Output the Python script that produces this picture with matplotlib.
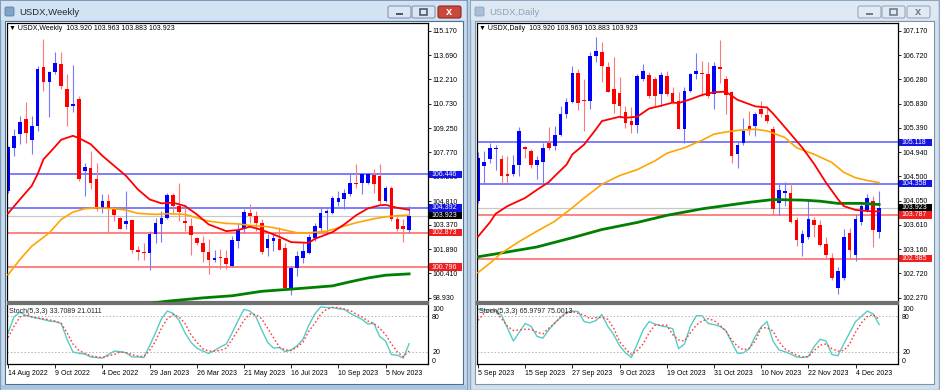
import numpy as np
import matplotlib
matplotlib.use('Agg')
from matplotlib import pyplot as plt
from matplotlib.patches import Rectangle, FancyBboxPatch
from matplotlib.transforms import blended_transform_factory

plt.rcParams['font.family'] = ['Liberation Sans', 'DejaVu Sans']

### Weekly data
w_open = [105.42, 108.01, 108.88, 109.80, 108.54, 109.35, 112.95, 112.08, 112.65, 113.16,
          111.63, 110.61, 111.02, 106.64, 106.85, 106.13, 104.40, 104.83, 104.34, 103.75,
          103.39, 103.63, 101.86, 101.70, 101.66, 102.82, 103.39, 103.79, 105.16, 104.51,
          103.59, 103.28, 102.57, 102.23, 101.72, 101.21, 101.39, 101.35, 100.88, 102.41,
          103.08, 104.10, 103.90, 103.49, 101.96, 102.41, 102.51, 101.96, 99.52, 100.74,
          101.35, 101.66, 102.57, 103.18, 104.10, 104.10, 104.75, 104.91, 105.22, 105.93,
          105.93, 105.93, 106.38, 106.34, 104.81, 105.63, 103.69, 103.29, 103.04]
w_high = [108.17, 109.19, 110.00, 110.81, 110.00, 113.05, 114.68, 112.75, 113.87, 113.87,
          112.55, 113.09, 111.18, 107.15, 107.86, 107.11, 105.22, 105.24, 104.51, 103.84,
          105.42, 103.63, 102.10, 102.23, 102.98, 103.79, 104.20, 105.28, 105.28, 105.89,
          104.57, 103.75, 102.61, 102.67, 102.51, 101.86, 101.90, 101.82, 102.67, 103.49,
          104.30, 104.61, 104.20, 103.69, 102.78, 102.88, 103.25, 102.27, 100.84, 101.76,
          102.27, 102.78, 103.49, 104.41, 104.30, 105.12, 105.42, 105.52, 106.54, 107.05,
          106.54, 106.54, 106.75, 107.05, 105.73, 105.73, 103.90, 103.73, 104.51]
w_low = [105.32, 107.52, 108.27, 108.37, 107.66, 109.08, 111.53, 109.90, 112.55, 111.63,
         109.35, 110.24, 106.03, 105.12, 105.52, 104.20, 104.10, 102.94, 103.59, 103.08,
         103.14, 101.66, 101.21, 101.21, 100.64, 102.27, 102.33, 103.69, 104.00, 103.59,
         102.98, 101.53, 102.15, 101.09, 100.37, 101.11, 100.68, 100.68, 100.78, 101.96,
         102.88, 103.49, 102.98, 101.56, 101.45, 101.76, 101.86, 99.42, 99.11, 100.23,
         101.05, 101.56, 102.37, 102.98, 102.88, 104.00, 104.51, 104.30, 105.12, 105.63,
         105.22, 105.83, 105.32, 104.61, 104.75, 103.59, 102.98, 102.31, 102.88]
w_close = [108.07, 108.78, 109.59, 108.92, 109.39, 112.85, 112.08, 112.65, 113.22, 111.83,
           110.51, 110.69, 106.17, 106.89, 105.93, 104.30, 104.83, 104.38, 103.96, 103.14,
           103.59, 101.82, 101.70, 101.66, 102.80, 103.45, 103.75, 105.18, 104.51, 104.16,
           103.45, 102.73, 102.23, 101.70, 101.21, 101.35, 101.33, 100.98, 102.47, 103.02,
           104.14, 103.90, 103.49, 101.70, 102.51, 102.57, 101.86, 99.52, 100.74, 101.45,
           101.76, 102.64, 103.29, 104.10, 104.20, 105.02, 105.02, 105.32, 105.93, 105.83,
           106.44, 106.44, 105.83, 104.81, 105.63, 103.69, 103.12, 103.08, 103.92]

w_red_bar = [0, 2, 4, 5, 6, 8, 9, 11, 12, 14, 16, 18, 20, 22, 24, 26, 28, 30, 32, 34, 37, 39,
             41, 43, 46, 48, 51, 52, 55, 57, 59, 61, 63, 64, 66, 68]
w_red = [104.06, 104.91, 105.73, 106.44, 107.35, 108.13, 108.54, 108.78, 108.64, 108.27,
         107.56, 106.95, 106.34, 105.52, 104.91, 104.67, 104.71, 104.51, 104.00, 103.39,
         102.98, 103.05, 103.25, 103.06, 102.64, 102.31, 102.27, 102.51, 102.92, 103.39,
         103.94, 104.36, 104.55, 104.58, 104.40, 104.28]
w_orange_bar = [0, 2, 4, 7, 9, 11, 13, 15, 18, 20, 22, 25, 27, 30, 32, 34, 37, 39, 41, 44,
                46, 49, 51, 54, 56, 59, 62, 64, 66, 68]
w_orange = [100.33, 101.25, 102.06, 102.88, 103.69, 104.14, 104.34, 104.40, 104.34, 104.26,
            104.06, 104.00, 104.04, 104.00, 103.79, 103.59, 103.45, 103.42, 103.33, 103.25,
            103.12, 102.88, 102.88, 102.98, 103.18, 103.49, 103.73, 103.85, 103.92, 103.96]
w_green_bar = [22, 27, 33, 38, 43, 49, 55, 58, 61, 64, 68]
w_green = [98.50, 98.72, 98.92, 99.05, 99.32, 99.48, 99.65, 99.90, 100.13, 100.30, 100.38]

w_stoch_k = [52, 79, 87, 82, 79, 77, 74.6, 72, 71, 68, 41, 19.5, 17, 16, 11, 10, 9, 15, 21, 20,
             18, 11, 11, 10, 30, 52, 76, 89, 85, 73, 52, 36, 26, 21, 17, 22, 28, 33, 52, 73,
             92, 89, 80, 57, 36, 26, 27, 20, 23, 30, 41, 65, 84, 96, 95, 95, 93, 92, 85, 80,
             75, 67, 68, 46, 38, 15, 14, 9, 33.7]
w_stoch_d = [44, 63, 79, 82, 79, 77, 76, 74, 72, 68, 52, 33, 22, 17, 13, 11, 10, 13, 15, 19.5,
             18.4, 15, 12.5, 11.4, 22, 38, 60, 76, 83, 79, 68, 49, 36, 25, 21, 21, 22, 26, 41, 57,
             73, 84, 83, 76, 60, 44, 27.6, 23, 22, 27.6, 36, 55, 68, 84, 92, 95, 95, 92, 90, 84,
             79, 72, 68, 60, 49, 33, 19.5, 11.4, 21]

w_ticks = [115.17, 113.69, 112.21, 110.73, 109.25, 107.77, 106.29, 104.81, 103.37, 101.89, 100.41, 98.93]
w_blue_lines = [106.446, 104.392]
w_red_lines = [102.873, 100.796]
w_dates = ['14 Aug 2022', '9 Oct 2022', '4 Dec 2022', '29 Jan 2023', '26 Mar 2023',
           '21 May 2023', '16 Jul 2023', '10 Sep 2023', '5 Nov 2023']

### Daily data
d_open = [104.05, 104.68, 104.81, 105.00, 104.81, 104.53, 104.53, 104.71, 105.04, 104.96,
          104.71, 104.76, 105.10, 105.05, 105.25, 105.64, 105.86, 106.40, 105.89, 105.88,
          106.71, 106.78, 106.50, 106.10, 106.02, 105.68, 105.51, 105.43, 106.28, 106.35,
          106.28, 106.00, 106.34, 106.02, 105.88, 105.37, 106.07, 106.37, 106.40, 106.37,
          106.00, 106.51, 106.29, 106.05, 104.90, 105.11, 105.42, 105.42, 105.74, 105.62,
          105.36, 104.00, 104.19, 104.19, 103.69, 103.27, 103.39, 103.70, 103.61, 103.26,
          102.99, 102.44, 102.63, 103.45, 103.05, 103.65, 103.87, 104.05, 103.47]
d_high = [104.95, 104.96, 105.11, 105.08, 104.88, 104.87, 104.88, 105.41, 105.05, 104.99,
          104.87, 105.10, 105.41, 105.42, 105.78, 105.94, 106.53, 106.46, 106.28, 106.77,
          107.05, 106.96, 106.59, 106.68, 106.31, 105.79, 105.76, 106.37, 106.56, 106.41,
          106.31, 106.41, 106.43, 106.13, 106.04, 106.13, 106.40, 106.76, 106.62, 106.59,
          106.59, 106.99, 106.34, 106.07, 105.14, 105.57, 105.70, 105.68, 105.88, 105.79,
          105.42, 104.35, 104.39, 104.38, 103.75, 103.52, 104.06, 103.75, 103.69, 103.39,
          103.09, 102.84, 103.53, 103.55, 103.80, 104.02, 104.18, 104.13, 104.22]
d_low = [104.00, 104.38, 104.74, 104.62, 104.37, 104.37, 104.50, 104.51, 104.84, 104.65,
         104.44, 104.35, 104.98, 104.98, 105.24, 105.57, 105.84, 105.72, 105.33, 105.73,
         106.59, 106.22, 106.04, 105.65, 105.57, 105.39, 105.30, 105.30, 106.25, 105.94,
         105.79, 105.79, 105.97, 105.82, 105.36, 105.11, 106.04, 106.28, 105.97, 105.94,
         105.73, 106.20, 105.64, 104.74, 104.65, 105.08, 105.25, 105.23, 105.59, 105.47,
         103.79, 103.79, 103.95, 103.64, 103.22, 103.03, 103.35, 103.39, 103.21, 102.99,
         102.60, 102.34, 102.60, 102.97, 102.95, 103.60, 103.85, 103.20, 103.36]
d_close = [104.84, 104.76, 105.02, 105.02, 104.50, 104.51, 104.71, 105.33, 104.99, 104.70,
           104.79, 105.02, 105.02, 105.25, 105.64, 105.86, 106.40, 105.84, 105.87, 106.71,
           106.80, 106.53, 106.05, 105.82, 105.79, 105.48, 105.43, 106.34, 106.43, 105.97,
           105.97, 106.35, 106.00, 105.86, 105.37, 106.07, 106.37, 106.43, 106.37, 105.97,
           106.53, 106.46, 105.99, 104.87, 105.08, 105.33, 105.35, 105.64, 105.64, 105.51,
           103.89, 104.24, 104.22, 103.65, 103.32, 103.44, 103.71, 103.61, 103.24, 103.06,
           102.63, 102.75, 103.39, 103.15, 103.72, 103.95, 104.10, 103.52, 103.92]

d_red_bar = [0, 2, 3, 5, 8, 10, 12, 13, 15, 16, 18, 20, 21, 24, 25, 27, 29, 31, 33, 34, 36, 38,
             40, 42, 44, 47, 49, 50, 52, 55, 57, 59, 61, 62, 64, 66, 68]
d_red = [103.39, 103.65, 103.81, 103.95, 104.10, 104.25, 104.39, 104.50, 104.71, 104.90,
         105.08, 105.36, 105.51, 105.59, 105.57, 105.59, 105.74, 105.79, 105.85, 105.84,
         105.91, 105.99, 106.04, 106.05, 105.90, 105.78, 105.76, 105.65, 105.40, 105.02,
         104.72, 104.38, 104.08, 103.95, 103.88, 103.86, 103.85]
d_orange_bar = [0, 2, 4, 7, 10, 13, 16, 18, 21, 24, 27, 30, 32, 35, 38, 40, 42, 44, 47, 49,
                52, 54, 57, 60, 62, 64, 66, 68]
d_orange = [102.73, 102.90, 103.09, 103.30, 103.49, 103.67, 103.92, 104.10, 104.35, 104.51,
            104.62, 104.78, 104.92, 105.02, 105.16, 105.27, 105.31, 105.34, 105.36, 105.33,
            105.21, 105.02, 104.90, 104.75, 104.57, 104.47, 104.42, 104.38]
d_green_bar = [0, 4, 10, 16, 21, 27, 32, 38, 42, 46, 50, 55, 58, 61, 65, 68]
d_green = [103.02, 103.09, 103.20, 103.37, 103.52, 103.65, 103.78, 103.90, 103.96, 104.02,
           104.07, 104.06, 104.04, 104.00, 104.00, 103.98]

d_stoch_k = [92, 91, 91, 90, 82, 60, 38, 53, 68, 63, 46, 43, 57, 69, 78, 87, 89, 88, 71, 69,
             73, 83, 63, 49, 30, 18, 10, 33, 57, 71, 67, 64, 62, 59, 25, 33, 63, 81, 81, 68,
             66, 63, 56, 36, 17, 18, 25, 46, 62, 71, 38, 23, 20, 16, 11, 10, 12, 29, 41, 38,
             15, 13, 33, 52, 71, 80, 89, 84, 66]
d_stoch_d = [73, 85, 89, 88, 76, 63, 56, 57, 58, 58, 53, 50, 60, 68, 79, 85, 88, 85, 82, 76,
             78, 78, 75, 60, 37, 25, 15, 22, 33, 52, 65, 65, 65, 49, 40, 38, 52, 65, 72, 76,
             73, 65, 55, 40, 29, 23, 26, 38, 60, 61, 55, 37, 25, 19.5, 14, 11, 11, 22, 31, 33,
             25, 21, 22, 33, 53, 69, 80, 83, 75]

d_ticks = [107.17, 106.72, 106.28, 105.83, 105.39, 104.94, 104.50, 104.05, 103.61, 103.16, 102.72, 102.27]
d_blue_lines = [105.118, 104.358]
d_red_lines = [103.787, 102.985]
d_dates = ['5 Sep 2023', '15 Sep 2023', '27 Sep 2023', '9 Oct 2023', '19 Oct 2023',
           '31 Oct 2023', '10 Nov 2023', '22 Nov 2023', '4 Dec 2023']

last_price = 103.923
header_ohlc = '103.920 103.963 103.883 103.923'

W, H = 940, 390
fig = plt.figure(figsize=(9.4, 3.9), dpi=100)
fig.patch.set_facecolor('#c4d8ec')


def px_axes(x0, y0, x1, y1):
    # axes placed with pixel coords (origin top-left)
    return fig.add_axes([x0 / W, 1 - y1 / H, (x1 - x0) / W, (y1 - y0) / H])


### window frames
bg = px_axes(0, 0, W, H)
bg.set_xlim(0, W)
bg.set_ylim(H, 0)
bg.axis('off')

bg.add_patch(Rectangle((0, 0), 467, 390, fc='#c8dbee', ec='#7f9bb8', lw=1))
bg.add_patch(Rectangle((470, 0), 469, 390, fc='#d2e0ee', ec='#8ea6bf', lw=1))
bg.add_patch(Rectangle((1, 1), 465, 19, fc='#d3e3f3', ec='none'))
bg.add_patch(Rectangle((471, 1), 467, 19, fc='#dde8f3', ec='none'))
bg.add_patch(Rectangle((5, 21), 458, 363, fc='white', ec='#50708f', lw=0.8))
bg.add_patch(Rectangle((475, 21), 459, 363, fc='white', ec='#7d95ad', lw=0.8))
bg.add_patch(Rectangle((1, 385), 465, 4, fc='#a9c4de', ec='none'))

# title icons and captions
bg.add_patch(FancyBboxPatch((5, 7), 9, 9, boxstyle='round,pad=0,rounding_size=1.5',
                            fc='#7fa2c8', ec='#5c7fa6', lw=0.6))
bg.add_patch(FancyBboxPatch((475, 7), 9, 9, boxstyle='round,pad=0,rounding_size=1.5',
                            fc='#a9bfd6', ec='#8aa3bd', lw=0.6))
bg.text(19, 12.5, 'USDX,Weekly', fontsize=6.8, va='center', ha='left', color='#1e2a38')
bg.text(489, 12.5, 'USDX,Daily', fontsize=6.8, va='center', ha='left', color='#8ea3ba')


def button(x, fc, ec, kind, gc):
    bg.add_patch(FancyBboxPatch((x, 6), 23, 12, boxstyle='round,pad=0,rounding_size=2',
                                fc=fc, ec=ec, lw=0.8))
    cx = x + 11.5
    if kind == 'min':
        bg.add_patch(Rectangle((cx - 3.5, 12.5), 7, 2.5, fc=gc, ec='none'))
    elif kind == 'max':
        bg.add_patch(Rectangle((cx - 3.5, 9), 7, 6, fc='none', ec=gc, lw=1.2))
    else:
        bg.text(cx, 12.2, 'x', fontsize=8, fontweight='bold', ha='center', va='center', color=gc)


button(388, '#dbe6f2', '#8599b0', 'min', '#4a5b70')
button(412, '#dbe6f2', '#8599b0', 'max', '#4a5b70')
button(438, '#c9493a', '#8c2a20', 'close', 'white')
button(858, '#e1e9f2', '#98a9bc', 'min', '#6d7d90')
button(882, '#e1e9f2', '#98a9bc', 'max', '#6d7d90')
button(907, '#e1e9f2', '#98a9bc', 'close', '#6d7d90')


def draw_chart(ax, axs, o, h, l, c, ylo, yhi, min_body, ticks, blues, reds,
               red_ma, orange_ma, green_ma, k, d, dates, title, stoch_title, xlo):
    o, h, l, c = map(np.asarray, (o, h, l, c))
    x = np.arange(len(o))
    up = c >= o
    dn = ~up

    # horizontal levels
    for v in blues:
        ax.axhline(v, color='#5a5aff', lw=1.1, zorder=1)
    for v in reds:
        ax.axhline(v, color='#ff5f5f', lw=1.1, zorder=1)
    ax.axhline(last_price, color='#c8c8c8', lw=0.9, zorder=1)

    # candles
    ax.vlines(x[up], l[up], h[up], color='#7878ff', lw=0.8, zorder=2)
    ax.vlines(x[dn], l[dn], h[dn], color='#ff7878', lw=0.8, zorder=2)
    body = np.maximum(np.abs(c - o), min_body)
    ax.bar(x[up], body[up], bottom=o[up], width=0.62, color='#0000ff', zorder=2.2)
    ax.bar(x[dn], body[dn], bottom=c[dn], width=0.62, color='#ff0000', zorder=2.2)

    # moving averages
    ax.plot(green_ma[0], green_ma[1], color='#008000', lw=2.0, zorder=3)
    ax.plot(orange_ma[0], orange_ma[1], color='#ffa500', lw=1.2, zorder=3)
    ax.plot(red_ma[0], red_ma[1], color='#ff0000', lw=1.3, zorder=3)

    ax.set_xlim(xlo, 71.2)
    ax.set_ylim(ylo, yhi)
    ax.set_xticks([])
    ax.yaxis.tick_right()
    ax.set_yticks(ticks)
    ax.set_yticklabels([f'{t:.3f}' for t in ticks])
    ax.tick_params(axis='y', labelsize=5, length=2, width=0.6, pad=1.5)
    for s in ax.spines.values():
        s.set_color('black')
        s.set_linewidth(0.9)
    ax.spines['bottom'].set_color('#707070')
    ax.spines['bottom'].set_linewidth(1.6)

    # coloured price tags on the right scale (about 33 x 7 px)
    tr = blended_transform_factory(ax.transAxes, ax.transData)
    unit = (yhi - ylo) / 279.0
    boxes = [(v, '#1414e6') for v in blues] + [(v, '#f01e1e') for v in reds] + [(last_price, 'black')]
    for v, col in boxes:
        ax.add_patch(Rectangle((1.002, v - 3.6 * unit), 33 / 420.5, 7.2 * unit, transform=tr,
                               fc=col, ec='none', clip_on=False, zorder=5))
        ax.text(1.008, v, f'{v:.3f}', transform=tr, fontsize=5, color='white', va='center',
                ha='left', clip_on=False, zorder=6)

    ax.text(0.004, 0.992, '\u25bc ' + title + '  ' + header_ohlc, transform=ax.transAxes,
            fontsize=5, va='top', ha='left', color='black')

    # stochastic
    xs = np.arange(len(k))
    axs.axhline(80, color='#b4b4b4', lw=0.7, ls=(0, (1.5, 2)))
    axs.axhline(20, color='#b4b4b4', lw=0.7, ls=(0, (1.5, 2)))
    axs.plot(xs, k, color='#55cdc4', lw=1.0)
    axs.plot(xs, d, color='#ff3c3c', lw=1.0, ls=(0, (1.2, 1.6)))
    axs.set_xlim(xlo, 71.2)
    axs.set_ylim(-1, 101)
    axs.yaxis.tick_right()
    axs.set_yticks([94, 80, 20, 5])
    axs.set_yticklabels(['100', '80', '20', '0'])
    axs.tick_params(axis='y', labelsize=5, length=0, pad=3)
    axs.set_xticks(np.arange(len(dates)) * 8)
    axs.set_xticklabels(dates)
    for lab in axs.get_xticklabels():
        lab.set_ha('left')
    axs.tick_params(axis='x', labelsize=5, length=3, width=0.6, pad=1.5)
    for s in axs.spines.values():
        s.set_color('black')
        s.set_linewidth(0.9)
    axs.spines['top'].set_color('#707070')
    axs.spines['top'].set_linewidth(1.6)
    axs.text(0.004, 0.94, stoch_title, transform=axs.transAxes, fontsize=5,
             va='top', ha='left', color='#222222')


wm = px_axes(7.5, 23, 428, 302)
ws = px_axes(7.5, 304, 428, 364)
dm = px_axes(477, 23, 898, 302)
ds = px_axes(477, 304, 898, 364)

draw_chart(wm, ws, w_open, w_high, w_low, w_close, 98.67, 115.64, 0.06, w_ticks,
           w_blue_lines, w_red_lines, (w_red_bar, w_red), (w_orange_bar, w_orange),
           (w_green_bar, w_green), w_stoch_k, w_stoch_d, w_dates, 'USDX,Weekly',
           'Stoch(5,3,3) 33.7089 21.0111', -0.1)
draw_chart(dm, ds, d_open, d_high, d_low, d_close, 102.19, 107.31, 0.018, d_ticks,
           d_blue_lines, d_red_lines, (d_red_bar, d_red), (d_orange_bar, d_orange),
           (d_green_bar, d_green), d_stoch_k, d_stoch_d, d_dates, 'USDX,Daily',
           'Stoch(5,3,3) 65.9797 75.0013', -0.17)

fig.savefig('out.png', dpi=100)
